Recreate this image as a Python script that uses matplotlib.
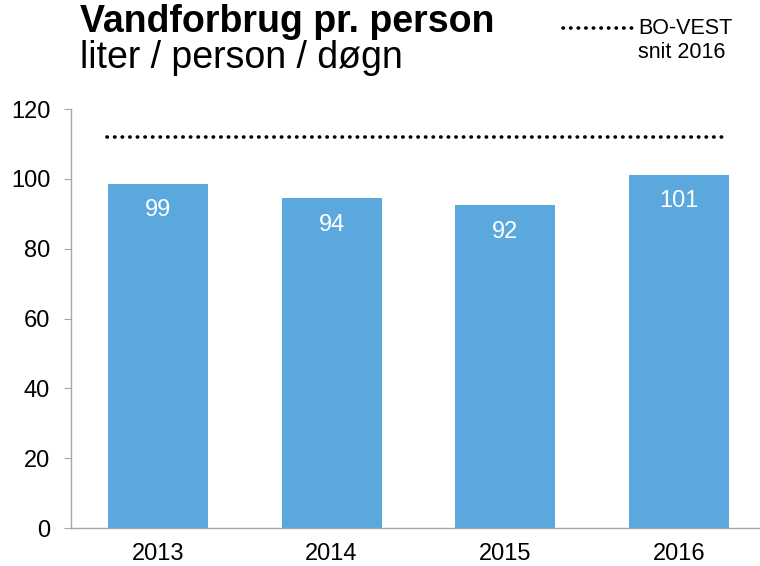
import matplotlib.pyplot as plt
from matplotlib.lines import Line2D

plt.rcParams['font.family'] = ['Liberation Sans', 'DejaVu Sans']

years = ['2013', '2014', '2015', '2016']
liters = [98.6, 94.4, 92.4, 101.2]
labels = ['99', '94', '92', '101']
bovest_avg = 112.0

bar_color = '#5ba8de'
grey = '#a6a6a6'
dotted = (0, (0.1, 2.0))

W, H = 760, 566
fig = plt.figure(figsize=(W / 100, H / 100), dpi=100)
ax = fig.add_axes([0.0934, 0.0671, 0.9145, 0.7403])

x = range(len(years))
bars = ax.bar(x, liters, width=0.575, color=bar_color)
for b, lab in zip(bars, labels):
    ax.annotate(lab, (b.get_x() + b.get_width() / 2, b.get_height()),
                xytext=(0, -19), textcoords='offset points',
                ha='center', va='center', color='white', fontsize=17)

ax.hlines(bovest_avg, -0.29, 3.27, colors='black', linewidth=2.6,
          linestyles=[dotted], capstyle='round')

ax.set_xlim(-0.5, 3.5)
ax.set_ylim(0, 120)
ax.set_yticks(range(0, 121, 20))
ax.set_xticks(list(x))
ax.set_xticklabels(years)

for s in ['top', 'right']:
    ax.spines[s].set_visible(False)
for s in ['left', 'bottom']:
    ax.spines[s].set_color(grey)
    ax.spines[s].set_linewidth(1.0)
ax.tick_params(axis='y', length=5, color=grey, labelsize=17, pad=10)
ax.tick_params(axis='x', length=0, labelsize=17, pad=11)

fig.text(80 / W, 1 - 32 / H, 'Vandforbrug pr. person', fontsize=27,
         fontweight='bold', va='baseline')
fig.text(80 / W, 1 - 68 / H, 'liter / person / døgn', fontsize=27,
         va='baseline')

# legend drawn by hand to sit like the original
fig.add_artist(Line2D([563 / W, 632 / W], [1 - 28 / H, 1 - 28 / H],
                      color='black', linewidth=2.6,
                      linestyle=dotted, dash_capstyle='round'))
fig.text(638 / W, 1 - 28 / H, 'BO-VEST', fontsize=15.5, va='center')
fig.text(638 / W, 1 - 53 / H, 'snit 2016', fontsize=15.5, va='center')

fig.savefig('out.png', dpi=100)
